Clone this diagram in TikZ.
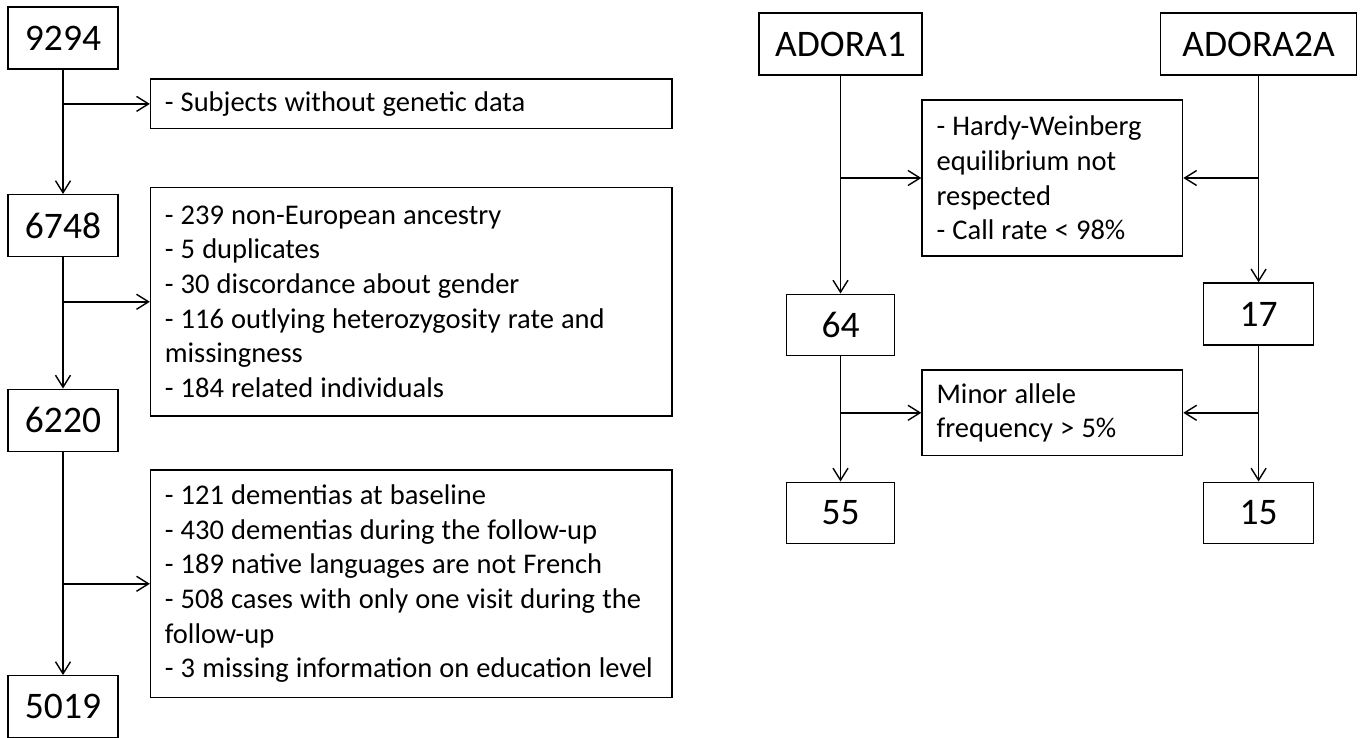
\documentclass[tikz,border=0pt]{standalone}
\usepackage{fontspec}
\setmainfont{Carlito}
\usetikzlibrary{arrows.meta}
\begin{document}
\begin{tikzpicture}[x=1pt,y=-1pt, line width=1.4pt,
 numbox/.style={draw, minimum height=62pt, inner sep=0pt, font=\fontsize{37.5}{45}\selectfont},
 txtbox/.style={draw, inner xsep=14.3pt, inner ysep=0pt, align=left, font=\fontsize{28.5}{34.7}\selectfont, execute at begin node={\spaceskip=0.25em\relax}},
 arr/.style={-{Straight Barb[length=12pt,width=15pt]}}]
\useasboundingbox (0,0) rectangle (1363,738);
% left column
\node[numbox, minimum width=110pt] (n9294) at (63,38.2) {9294};
\node[numbox, minimum width=110pt] (n6748) at (63,225.7) {6748};
\node[numbox, minimum width=110pt] (n6220) at (63,420.2) {6220};
\node[numbox, minimum width=110pt] (n5019) at (63,706.7) {5019};
\node[txtbox, text width=492.9pt, minimum height=49.7pt] (ex1) at (411.3,103.9) {\mbox{- Subjects without genetic data}};
\node[txtbox, text width=492.9pt, minimum height=228.3pt] (ex2) at (411.3,301.8) {\mbox{- 239 non-European ancestry}\\\mbox{- 5 duplicates}\\\mbox{- 30 discordance about gender}\\\mbox{- 116 outlying heterozygosity rate and}\\\mbox{missingness}\\\mbox{- 184 related individuals}};
\node[txtbox, text width=492.9pt, minimum height=227.7pt] (ex3) at (411.3,583.8) {\mbox{- 121 dementias at baseline}\\\mbox{- 430 dementias during the follow-up}\\\mbox{- 189 native languages are not French}\\\mbox{- 508 cases with only one visit during the}\\\mbox{follow-up}\\\mbox{- 3 missing information on education level}};
\draw[arr] (n9294) -- (n6748);
\draw[arr] (n6748) -- (n6220);
\draw[arr] (n6220) -- (n5019);
\draw[arr] (n9294.south |- ex1.west) -- (ex1.west);
\draw[arr] (n6748.south |- ex2.west) -- (ex2.west);
\draw[arr] (n6220.south |- ex3.west) -- (ex3.west);
% right part
\node[numbox, minimum width=163.3pt] (a1) at (840.5,44.2) {ADORA1};
\node[numbox, minimum width=196pt] (a2) at (1258.6,44.2) {ADORA2A};
\node[txtbox, text width=231.4pt, minimum height=156pt, inner xsep=14.6pt] (hw) at (1052.3,178) {\mbox{- Hardy-Weinberg}\\\mbox{equilibrium not}\\\mbox{respected}\\\mbox{- Call rate < 98\%}};
\node[numbox, minimum width=108pt, minimum height=61pt] (n64) at (840.5,324.7) {64};
\node[numbox, minimum width=110pt] (n17) at (1258.6,314) {17};
\node[txtbox, text width=231.4pt, minimum height=85.7pt, inner xsep=14.6pt] (maf) at (1052.3,412.8) {\mbox{Minor allele}\\\mbox{frequency > 5\%}};
\node[numbox, minimum width=108pt, minimum height=61pt] (n55) at (840.5,512.7) {55};
\node[numbox, minimum width=110pt, minimum height=61pt] (n15) at (1258.6,512.7) {15};
\draw[arr] (a1) -- (n64);
\draw[arr] (n64) -- (n55);
\draw[arr] (a2) -- (n17);
\draw[arr] (n17) -- (n15);
\draw[arr] (a1.south |- hw.west) -- (hw.west);
\draw[arr] (a2.south |- hw.east) -- (hw.east);
\draw[arr] (n64.south |- maf.west) -- (maf.west);
\draw[arr] (n17.south |- maf.east) -- (maf.east);
\end{tikzpicture}
\end{document}
